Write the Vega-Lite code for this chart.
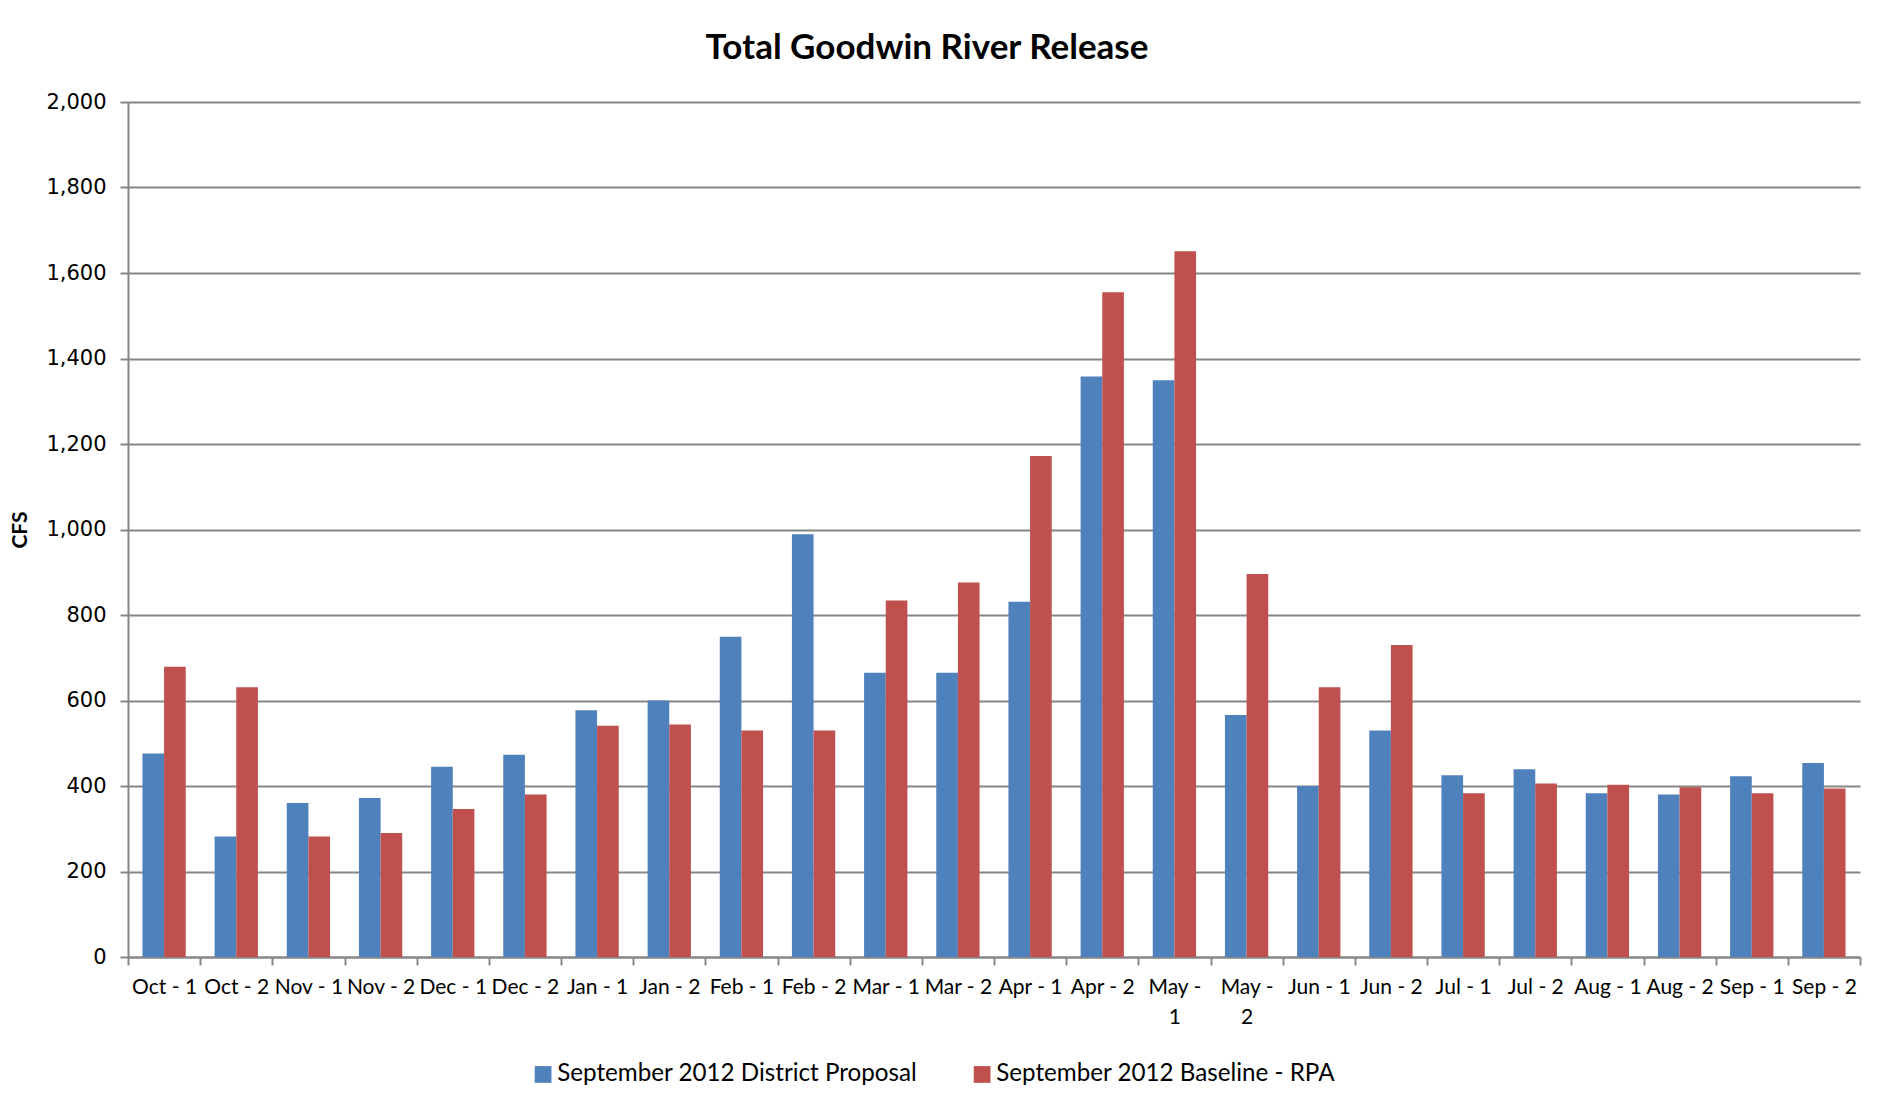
{
  "$schema": "https://vega.github.io/schema/vega-lite/v6.json",
  "width": 1732,
  "height": 855,
  "autosize": {"type": "none"},
  "padding": {"left": 128, "top": 102, "right": 26, "bottom": 153},
  "background": "white",
  "title": {
    "text": "Total Goodwin River Release",
    "font": "Lato",
    "fontSize": 35,
    "fontWeight": "bold",
    "color": "#000000",
    "anchor": "middle",
    "dx": -67,
    "offset": 25
  },
  "data": {
    "values": [
      {"period": "Oct - 1", "series": "September 2012 District Proposal", "cfs": 476},
      {"period": "Oct - 1", "series": "September 2012 Baseline - RPA", "cfs": 679},
      {"period": "Oct - 2", "series": "September 2012 District Proposal", "cfs": 282},
      {"period": "Oct - 2", "series": "September 2012 Baseline - RPA", "cfs": 631},
      {"period": "Nov - 1", "series": "September 2012 District Proposal", "cfs": 360},
      {"period": "Nov - 1", "series": "September 2012 Baseline - RPA", "cfs": 282},
      {"period": "Nov - 2", "series": "September 2012 District Proposal", "cfs": 372},
      {"period": "Nov - 2", "series": "September 2012 Baseline - RPA", "cfs": 290},
      {"period": "Dec - 1", "series": "September 2012 District Proposal", "cfs": 445},
      {"period": "Dec - 1", "series": "September 2012 Baseline - RPA", "cfs": 346},
      {"period": "Dec - 2", "series": "September 2012 District Proposal", "cfs": 473},
      {"period": "Dec - 2", "series": "September 2012 Baseline - RPA", "cfs": 380},
      {"period": "Jan - 1", "series": "September 2012 District Proposal", "cfs": 577},
      {"period": "Jan - 1", "series": "September 2012 Baseline - RPA", "cfs": 541},
      {"period": "Jan - 2", "series": "September 2012 District Proposal", "cfs": 600},
      {"period": "Jan - 2", "series": "September 2012 Baseline - RPA", "cfs": 544},
      {"period": "Feb - 1", "series": "September 2012 District Proposal", "cfs": 749},
      {"period": "Feb - 1", "series": "September 2012 Baseline - RPA", "cfs": 530},
      {"period": "Feb - 2", "series": "September 2012 District Proposal", "cfs": 989},
      {"period": "Feb - 2", "series": "September 2012 Baseline - RPA", "cfs": 530},
      {"period": "Mar - 1", "series": "September 2012 District Proposal", "cfs": 665},
      {"period": "Mar - 1", "series": "September 2012 Baseline - RPA", "cfs": 834},
      {"period": "Mar - 2", "series": "September 2012 District Proposal", "cfs": 665},
      {"period": "Mar - 2", "series": "September 2012 Baseline - RPA", "cfs": 876},
      {"period": "Apr - 1", "series": "September 2012 District Proposal", "cfs": 831},
      {"period": "Apr - 1", "series": "September 2012 Baseline - RPA", "cfs": 1172},
      {"period": "Apr - 2", "series": "September 2012 District Proposal", "cfs": 1358},
      {"period": "Apr - 2", "series": "September 2012 Baseline - RPA", "cfs": 1555},
      {"period": "May - 1", "series": "September 2012 District Proposal", "cfs": 1349},
      {"period": "May - 1", "series": "September 2012 Baseline - RPA", "cfs": 1651},
      {"period": "May - 2", "series": "September 2012 District Proposal", "cfs": 566},
      {"period": "May - 2", "series": "September 2012 Baseline - RPA", "cfs": 896},
      {"period": "Jun - 1", "series": "September 2012 District Proposal", "cfs": 400},
      {"period": "Jun - 1", "series": "September 2012 Baseline - RPA", "cfs": 631},
      {"period": "Jun - 2", "series": "September 2012 District Proposal", "cfs": 530},
      {"period": "Jun - 2", "series": "September 2012 Baseline - RPA", "cfs": 730},
      {"period": "Jul - 1", "series": "September 2012 District Proposal", "cfs": 425},
      {"period": "Jul - 1", "series": "September 2012 Baseline - RPA", "cfs": 383},
      {"period": "Jul - 2", "series": "September 2012 District Proposal", "cfs": 439},
      {"period": "Jul - 2", "series": "September 2012 Baseline - RPA", "cfs": 406},
      {"period": "Aug - 1", "series": "September 2012 District Proposal", "cfs": 383},
      {"period": "Aug - 1", "series": "September 2012 Baseline - RPA", "cfs": 403},
      {"period": "Aug - 2", "series": "September 2012 District Proposal", "cfs": 380},
      {"period": "Aug - 2", "series": "September 2012 Baseline - RPA", "cfs": 397},
      {"period": "Sep - 1", "series": "September 2012 District Proposal", "cfs": 423},
      {"period": "Sep - 1", "series": "September 2012 Baseline - RPA", "cfs": 383},
      {"period": "Sep - 2", "series": "September 2012 District Proposal", "cfs": 454},
      {"period": "Sep - 2", "series": "September 2012 Baseline - RPA", "cfs": 394}
    ]
  },
  "mark": {"type": "bar"},
  "encoding": {
    "x": {
      "field": "period",
      "type": "nominal",
      "sort": null,
      "scale": {"paddingInner": 0, "paddingOuter": 0},
      "axis": {
        "title": null,
        "labelAngle": 0,
        "labelFont": "Lato",
        "labelFontSize": 21,
        "labelColor": "#000000",
        "labelPadding": 11,
        "labelLineHeight": 30,
        "labelBaseline": "top",
        "labelExpr": "datum.value == 'May - 1' ? ['May -', '1'] : datum.value == 'May - 2' ? ['May -', '2'] : datum.value",
        "tickBand": "extent",
        "tickSize": 8,
        "tickColor": "#868686",
        "tickWidth": 2,
        "domainColor": "#868686",
        "domainWidth": 2,
        "grid": false,
        "labelOverlap": false
      }
    },
    "xOffset": {
      "field": "series",
      "type": "nominal",
      "scale": {"domain": ["September 2012 District Proposal", "September 2012 Baseline - RPA"], "paddingInner": 0, "paddingOuter": 0.6667}
    },
    "y": {
      "field": "cfs",
      "type": "quantitative",
      "scale": {"domain": [0, 2000], "nice": false},
      "axis": {
        "title": "CFS",
        "titleFont": "Lato",
        "titleFontSize": 21,
        "titleFontWeight": "bold",
        "titleColor": "#000000",
        "titlePadding": 15,
        "values": [0, 200, 400, 600, 800, 1000, 1200, 1400, 1600, 1800, 2000],
        "format": ",d",
        "labelFont": "DejaVu Sans",
        "labelFontSize": 21,
        "labelColor": "#000000",
        "labelPadding": 14,
        "tickSize": 8,
        "tickColor": "#868686",
        "tickWidth": 2,
        "domainColor": "#868686",
        "domainWidth": 2,
        "grid": true,
        "gridColor": "#868686",
        "gridWidth": 2
      }
    },
    "color": {
      "field": "series",
      "type": "nominal",
      "scale": {"domain": ["September 2012 District Proposal", "September 2012 Baseline - RPA"], "range": ["#4F81BD", "#C0504D"]},
      "legend": {
        "title": null,
        "orient": "none",
        "legendX": 403,
        "legendY": 960,
        "direction": "horizontal",
        "symbolType": "square",
        "symbolSize": 280,
        "symbolStrokeWidth": 0,
        "symbolOpacity": 1,
        "labelFont": "Lato",
        "labelFontSize": 24.2,
        "labelColor": "#000000",
        "labelLimit": 0,
        "columnPadding": 52,
        "labelOffset": 2
      }
    }
  },
  "config": {
    "view": {"stroke": null},
    "axis": {"labelFlush": false}
  }
}
